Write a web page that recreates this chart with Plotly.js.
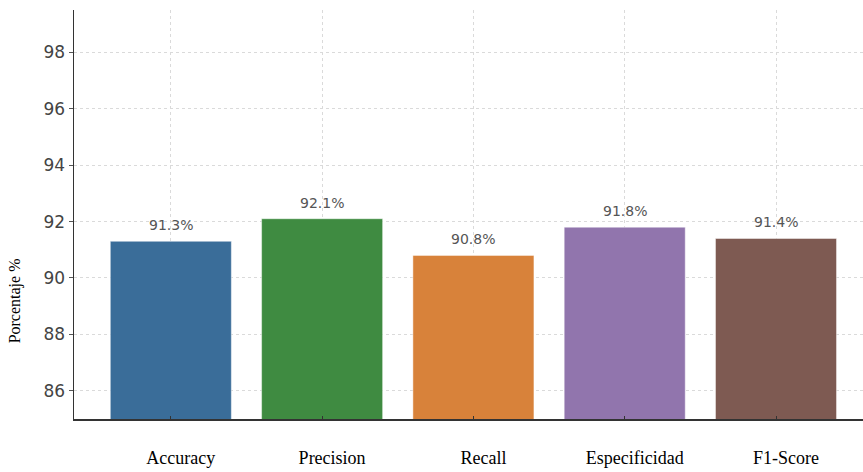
<!DOCTYPE html>
<html>
<head>
<meta charset="utf-8">
<script src="https://cdn.plot.ly/plotly-3.0.1.min.js"></script>
<style>html,body{margin:0;padding:0;background:#fff;overflow:hidden;}</style>
</head>
<body>
<div id="chart" style="width:863px;height:472px;"></div>
<script>
const categories = ["Accuracy", "Precision", "Recall", "Especificidad", "F1-Score"];
const values = [91.3, 92.1, 90.8, 91.8, 91.4];
const barLabels = ["91.3%", "92.1%", "90.8%", "91.8%", "91.4%"];
const barColors = ["#3a6d99", "#3f8b41", "#d8823a", "#9175ad", "#7e5a52"];
const yTicks = [86, 88, 90, 92, 94, 96, 98];

const trace = {
  type: "bar",
  x: categories,
  y: values,
  width: 0.8,
  marker: { color: barColors, line: { color: "rgba(255,255,255,0.45)", width: 1 } },
  hoverinfo: "skip"
};

const annotations = categories.map((c, i) => ({
  x: c, y: values[i], xref: "x", yref: "y",
  text: barLabels[i], showarrow: false,
  yanchor: "bottom", yshift: 6,
  font: { family: "DejaVu Sans", size: 14, color: "#555555" }
}));
annotations.push({
  xref: "paper", yref: "paper", x: -0.0748, y: 0.29,
  text: "Porcentaje %", showarrow: false, textangle: -90,
  xanchor: "center", yanchor: "middle",
  font: { family: "Liberation Serif", size: 16, color: "#000000" }
});

const layout = {
  width: 863, height: 472,
  margin: { l: 74, r: 0, t: 10, b: 53 },
  paper_bgcolor: "#ffffff", plot_bgcolor: "#ffffff",
  showlegend: false,
  bargap: 0.2,
  xaxis: {
    type: "category",
    range: [-0.64, 4.575],
    showgrid: true, gridcolor: "#dadada", griddash: "dot", gridwidth: 1,
    showline: true, linecolor: "#333333", linewidth: 1.5,
    ticks: "inside", ticklen: 3, tickcolor: "#333333",
    ticklabelstandoff: 22, ticklabelshift: 10,
    tickfont: { family: "Liberation Serif", size: 18, color: "#000000" },
    fixedrange: true
  },
  yaxis: {
    range: [85, 99.5],
    tickvals: yTicks,
    showgrid: true, gridcolor: "#dadada", griddash: "dot", gridwidth: 1,
    zeroline: false,
    showline: true, linecolor: "#333333", linewidth: 1.5,
    ticks: "outside", ticklen: 4, tickcolor: "#555555",
    tickfont: { family: "DejaVu Sans", size: 17, color: "#444444" },
    fixedrange: true
  },
  annotations: annotations
};

Plotly.newPlot("chart", [trace], layout, { displayModeBar: false, staticPlot: true });
</script>
</body>
</html>
